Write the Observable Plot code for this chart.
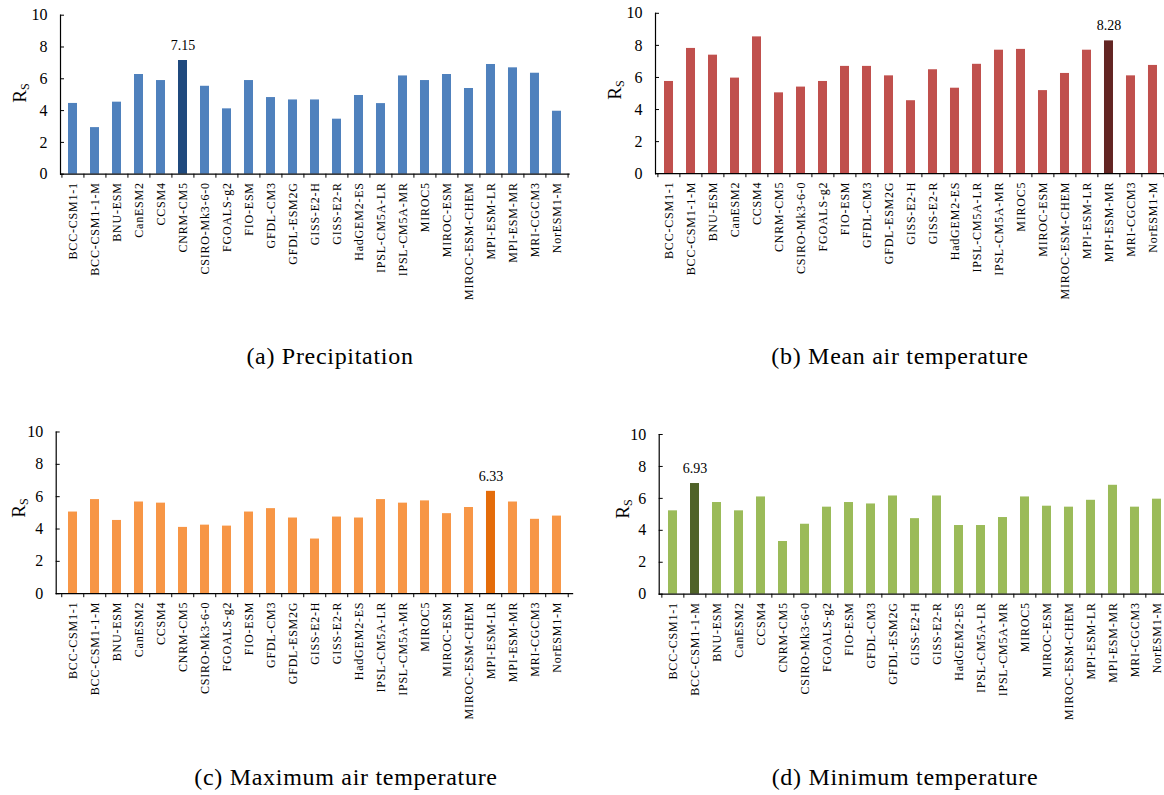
<!DOCTYPE html>
<html><head><meta charset="utf-8">
<script src="https://cdn.jsdelivr.net/npm/d3@7"></script>
<script src="https://cdn.jsdelivr.net/npm/@observablehq/plot@0.6"></script>
<style>
body{margin:0;background:#fff;}
#root{position:relative;width:1164px;height:795px;overflow:hidden;font-family:"Liberation Serif","Times New Roman",serif;color:#000;}
.panel{position:absolute;}
.cap{position:absolute;font-size:24px;letter-spacing:0.7px;white-space:nowrap;transform:translate(-50%,-50%);}
.ylab{position:absolute;font-size:19px;white-space:nowrap;transform:translate(-50%,-50%) rotate(-90deg);}
.ylab sub{font-size:12px;vertical-align:-3px;}
.panel g[aria-label="x-axis tick label"] text{letter-spacing:0.8px;}
</style></head><body><div id="root"></div>
<script>
const models = ["BCC-CSM1-1","BCC-CSM1-1-M","BNU-ESM","CanESM2","CCSM4","CNRM-CM5","CSIRO-Mk3-6-0","FGOALS-g2","FIO-ESM","GFDL-CM3","GFDL-ESM2G","GISS-E2-H","GISS-E2-R","HadGEM2-ES","IPSL-CM5A-LR","IPSL-CM5A-MR","MIROC5","MIROC-ESM","MIROC-ESM-CHEM","MPI-ESM-LR","MPI-ESM-MR","MRI-CGCM3","NorESM1-M"];
const precipitation = [4.45,2.93,4.53,6.27,5.89,7.15,5.53,4.11,5.89,4.82,4.67,4.67,3.46,4.95,4.44,6.18,5.89,6.27,5.39,6.90,6.69,6.35,3.96];
const meanTemperature = [5.75,7.81,7.39,5.96,8.53,5.04,5.40,5.75,6.69,6.69,6.10,4.55,6.48,5.33,6.82,7.70,7.75,5.18,6.25,7.70,8.28,6.10,6.75];
const maxTemperature = [5.05,5.82,4.53,5.67,5.60,4.10,4.24,4.18,5.05,5.26,4.68,3.38,4.74,4.68,5.82,5.60,5.74,4.95,5.33,6.33,5.67,4.60,4.80];
const minTemperature = [5.22,6.93,5.74,5.22,6.09,3.30,4.38,5.45,5.74,5.65,6.15,4.73,6.15,4.30,4.30,4.80,6.09,5.51,5.45,5.88,6.82,5.45,5.95];
const yTicks = [0,2,4,6,8,10];
const captions = ["(a) Precipitation","(b) Mean air temperature","(c) Maximum air temperature","(d) Minimum temperature"];
const highlighted = ["CNRM-CM5","MPI-ESM-MR","MPI-ESM-LR","BCC-CSM1-1-M"];
const seriesList = [precipitation, meanTemperature, maxTemperature, minTemperature];

const layout = [
  {left:0,   top:0,   axisX:60,    y10:14.7, y0:173.7, step:22.16, color:"#4F81BD", dark:"#1F497D", capX:330, capY:356, labX:21,  labY:93},
  {left:582, top:0,   axisX:655,   y10:12.8, y0:173.2, step:22.2,  color:"#C0504D", dark:"#632523", capX:900, capY:356, labX:616, labY:90},
  {left:0,   top:420, axisX:55.7,  y10:431.5,y0:593.2, step:22.5,  color:"#F79646", dark:"#E46C0A", capX:346, capY:777, labX:20,  labY:508},
  {left:582, top:420, axisX:658.7, y10:434,  y0:593.7, step:22.3,  color:"#9BBB59", dark:"#4F6228", capX:905, capY:777, labX:624, labY:509}
];

const root = document.getElementById("root");
layout.forEach((L, i) => {
  const data = models.map((m, j) => ({model: m, value: seriesList[i][j]}));
  const hl = highlighted[i];
  const plotW = L.step * models.length;
  const mL = L.axisX - L.left, mT = L.y10 - L.top, mB = 140, mR = 4;
  const plotH = L.y0 - L.y10;
  const tickLen = 10 / plotH * 4;
  const chart = Plot.plot({
    width: mL + plotW + mR,
    height: mT + plotH + mB,
    marginLeft: mL, marginRight: mR, marginTop: mT, marginBottom: mB,
    style: {fontFamily: '"Liberation Serif","Times New Roman",serif', background: "transparent", color: "#000", overflow: "visible"},
    x: {domain: models, paddingInner: 0.57, paddingOuter: 0.285, align: 0.5},
    y: {domain: [0, 10]},
    marks: [
      Plot.barY(data.filter(d => d.model !== hl), {x: "model", y: "value", fill: L.color}),
      Plot.barY(data.filter(d => d.model === hl), {x: "model", y: "value", fill: L.dark}),
      Plot.text(data.filter(d => d.model === hl), {x: "model", y: "value", text: d => d.value.toFixed(2), dy: -15, fontSize: 14, fill: "#000"}),
      Plot.ruleY([0], {stroke: "#000", strokeWidth: 1.2}),
      Plot.frame({anchor: "left", stroke: "#000", strokeWidth: 1.2}),
      Plot.tickY(yTicks, {y: d => d, insetRight: plotW - 4, stroke: "#000"}),
      Plot.ruleX(models, {x: d => d, y1: 0, y2: -tickLen, dx: -L.step / 2, stroke: "#000"}),
      Plot.ruleX(models.slice(-1), {x: d => d, y1: 0, y2: -tickLen, dx: L.step / 2, stroke: "#000"}),
      Plot.axisY({ticks: yTicks, tickSize: 0, tickPadding: 13, fontSize: 16, label: null, tickFormat: d => String(d)}),
      Plot.axisX({tickRotate: -90, tickSize: 0, tickPadding: 8, fontSize: 12, label: null})
    ]
  });
  chart.classList.add("panel");
  chart.style.left = L.left + "px";
  chart.style.top = L.top + "px";
  root.appendChild(chart);

  const lab = document.createElement("div");
  lab.className = "ylab";
  lab.style.left = L.labX + "px";
  lab.style.top = L.labY + "px";
  lab.innerHTML = "R<sub>S</sub>";
  root.appendChild(lab);

  const cap = document.createElement("div");
  cap.className = "cap";
  cap.style.left = L.capX + "px";
  cap.style.top = L.capY + "px";
  cap.textContent = captions[i];
  root.appendChild(cap);
});
</script>
</body></html>
